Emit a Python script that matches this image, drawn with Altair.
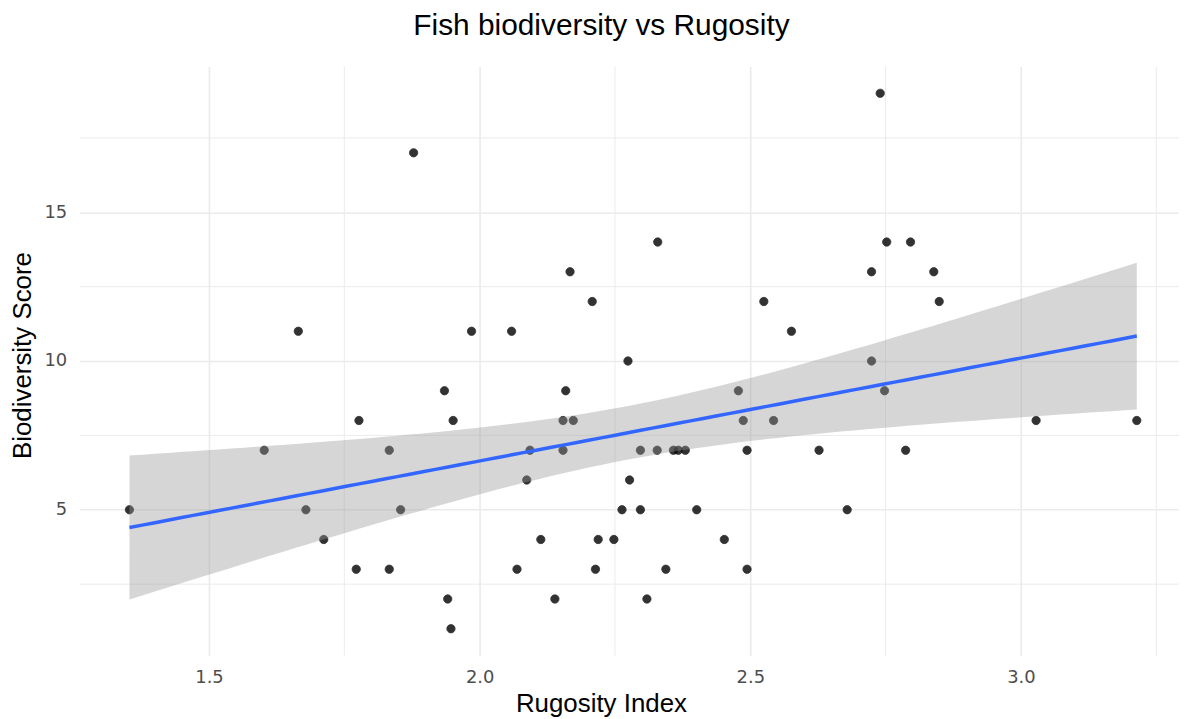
import altair as alt
import numpy as np
import pandas as pd

# ---- data ----
rugosity = [1.665, 1.878, 1.985,
            1.353, 1.602, 1.679, 1.712, 1.777, 1.772, 1.833, 1.833, 1.854, 1.935, 1.951, 1.941, 1.947,
            2.329, 2.167, 2.208, 2.059, 2.525, 2.576, 2.274, 2.159, 2.478,
            2.154, 2.173, 2.487, 2.543, 2.093, 2.154, 2.297, 2.328, 2.358, 2.367, 2.380, 2.494,
            2.087, 2.277, 2.263, 2.297, 2.401, 2.113, 2.219, 2.248, 2.452, 2.069, 2.214, 2.344,
            2.494, 2.139, 2.309,
            2.740, 2.752, 2.796, 2.724, 2.839, 2.849,
            2.724, 2.748, 3.028, 3.214, 2.627, 2.787, 2.679]
biodiversity = [11, 17, 11,
                5, 7, 5, 4, 8, 3, 7, 3, 5, 9, 8, 2, 1,
                14, 13, 12, 11, 12, 11, 10, 9, 9,
                8, 8, 8, 8, 7, 7, 7, 7, 7, 7, 7, 7,
                6, 6, 5, 5, 5, 4, 4, 4, 4, 3, 3, 3,
                3, 2, 2,
                19, 14, 14, 13, 13, 12,
                10, 9, 8, 8, 7, 7, 5]

x_major = [1.5, 2.0, 2.5, 3.0]
x_minor = [1.75, 2.25, 2.75, 3.25]
y_major = [5, 10, 15]
y_minor = [2.5, 7.5, 12.5, 17.5]

X_DOMAIN = [1.261, 3.292]
Y_DOMAIN = [0.1, 19.9]

# ---- linear fit with 95% confidence band ----
xa = np.array(rugosity, dtype=float)
ya = np.array(biodiversity, dtype=float)
n = len(xa)
slope, intercept = np.polyfit(xa, ya, 1)
resid = ya - (intercept + slope * xa)
s = np.sqrt(np.sum(resid ** 2) / (n - 2))
sxx = np.sum((xa - xa.mean()) ** 2)
t_crit = 1.998  # t(0.975, df=63)
xs = np.linspace(xa.min(), xa.max(), 80)
fit = intercept + slope * xs
se = s * np.sqrt(1.0 / n + (xs - xa.mean()) ** 2 / sxx)

pts = pd.DataFrame({"x": rugosity, "y": biodiversity})
band = pd.DataFrame({"x": xs, "fit": fit, "lo": fit - t_crit * se, "hi": fit + t_crit * se})

xs_scale = alt.Scale(domain=X_DOMAIN, nice=False, zero=False)
ys_scale = alt.Scale(domain=Y_DOMAIN, nice=False, zero=False)

x_axis = alt.Axis(values=x_major, format=".1f", grid=True, gridColor="#EBEBEB", gridWidth=1.6,
                  ticks=False, tickSize=0, domain=False, labelPadding=13,
                  labelFont="DejaVu Sans", labelFontSize=18, labelColor="#4D4D4D",
                  title="Rugosity Index", titleFont="Liberation Sans", titleFontSize=26,
                  titleFontWeight="normal", titleColor="black", titleBaseline="alphabetic",
                  titleY=56, titleX=524, titleAlign="center")
y_axis = alt.Axis(values=y_major, format="d", grid=True, gridColor="#EBEBEB", gridWidth=1.6,
                  ticks=False, tickSize=0, domain=False, labelPadding=13,
                  labelFont="DejaVu Sans", labelFontSize=18, labelColor="#4D4D4D",
                  title="Biodiversity Score", titleFont="Liberation Sans", titleFontSize=26,
                  titleFontWeight="normal", titleColor="black", titleBaseline="alphabetic",
                  titleX=-49, titleY=290, titleAlign="center")

vminor = alt.Chart(pd.DataFrame({"v": x_minor})).mark_rule(color="#EBEBEB", strokeWidth=1.0).encode(
    x=alt.X("v:Q", scale=xs_scale, axis=x_axis))
hminor = alt.Chart(pd.DataFrame({"v": y_minor})).mark_rule(color="#EBEBEB", strokeWidth=1.0).encode(
    y=alt.Y("v:Q", scale=ys_scale, axis=y_axis))

points = alt.Chart(pts).mark_circle(size=70, color="black", opacity=0.8,
                                    stroke="black", strokeWidth=1, strokeOpacity=0.8).encode(
    x=alt.X("x:Q", scale=xs_scale, axis=x_axis),
    y=alt.Y("y:Q", scale=ys_scale, axis=y_axis))

ribbon = alt.Chart(band).mark_area(color="#999999", opacity=0.4).encode(
    x=alt.X("x:Q", scale=xs_scale, axis=x_axis),
    y=alt.Y("lo:Q", scale=ys_scale, axis=y_axis),
    y2="hi:Q")

line = alt.Chart(band).mark_line(color="#3366FF", strokeWidth=3.5).encode(
    x=alt.X("x:Q", scale=xs_scale, axis=x_axis),
    y=alt.Y("fit:Q", scale=ys_scale, axis=y_axis))

chart = alt.layer(vminor, hminor, points, ribbon, line).properties(
    width=1105, height=592,
    background="white",
    title=alt.TitleParams("Fish biodiversity vs Rugosity", font="Liberation Sans", fontSize=30,
                          fontWeight="normal", color="black", anchor="middle", dx=-28,
                          baseline="alphabetic", offset=32, dy=31),
    autosize=alt.AutoSizeParams(type="none"),
    padding={"left": 72, "top": 57, "right": 0, "bottom": 62},
).configure_view(stroke="transparent", strokeWidth=0)

chart.save("out.html", embed_options={"renderer": "svg", "actions": False})
